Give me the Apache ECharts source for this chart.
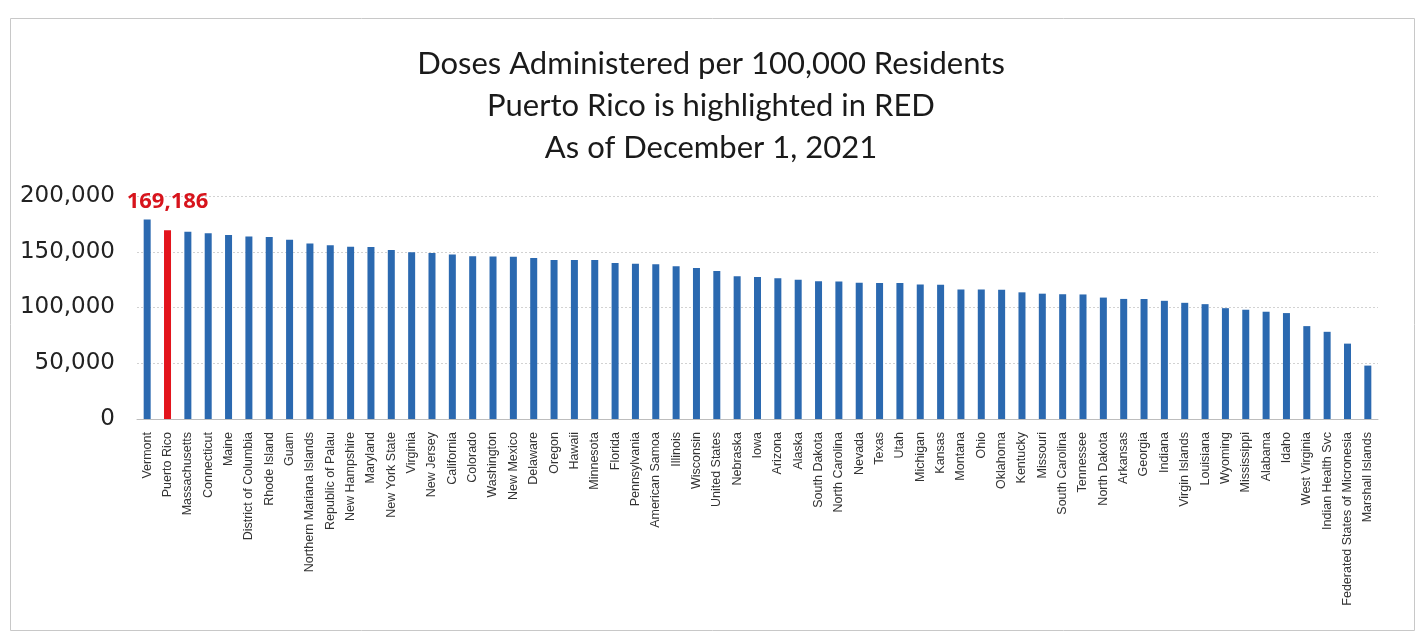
<!DOCTYPE html>
<html>
<head>
<meta charset="utf-8">
<script src="https://cdn.jsdelivr.net/npm/echarts@6/dist/echarts.min.js"></script>
<style>
  html, body { margin: 0; padding: 0; background: #ffffff; }
  #chart { width: 1422px; height: 639px; }
</style>
</head>
<body>
<div id="chart"></div>
<script>
// Jurisdictions, sorted by doses administered per 100,000 residents
const jurisdictions = [
  'Vermont', 'Puerto Rico', 'Massachusetts', 'Connecticut', 'Maine',
  'District of Columbia', 'Rhode Island', 'Guam', 'Northern Mariana Islands', 'Republic of Palau',
  'New Hampshire', 'Maryland', 'New York State', 'Virginia', 'New Jersey',
  'California', 'Colorado', 'Washington', 'New Mexico', 'Delaware',
  'Oregon', 'Hawaii', 'Minnesota', 'Florida', 'Pennsylvania',
  'American Samoa', 'Illinois', 'Wisconsin', 'United States', 'Nebraska',
  'Iowa', 'Arizona', 'Alaska', 'South Dakota', 'North Carolina',
  'Nevada', 'Texas', 'Utah', 'Michigan', 'Kansas',
  'Montana', 'Ohio', 'Oklahoma', 'Kentucky', 'Missouri',
  'South Carolina', 'Tennessee', 'North Dakota', 'Arkansas', 'Georgia',
  'Indiana', 'Virgin Islands', 'Louisiana', 'Wyoming', 'Mississippi',
  'Alabama', 'Idaho', 'West Virginia', 'Indian Health Svc', 'Federated States of Micronesia',
  'Marshall Islands'
];

// Doses administered per 100,000 residents
const dosesPer100k = [
  178900, 169186, 168000, 166500, 165100,
  163600, 163300, 160700, 157400, 155900,
  154500, 154300, 151500, 149500, 148900,
  147500, 146000, 145800, 145600, 144500,
  142700, 142600, 142500, 139800, 139200,
  138900, 136900, 135400, 132700, 128000,
  127400, 126300, 125000, 123600, 123300,
  122100, 122000, 121900, 120600, 120500,
  116200, 116100, 116000, 113600, 112400,
  111900, 111700, 108900, 107700, 107600,
  106000, 104200, 103000, 99400, 98000,
  96200, 95000, 83300, 78200, 67600,
  47900
];

const highlighted = 'Puerto Rico';

const titleLines = [
  'Doses Administered per 100,000 Residents',
  'Puerto Rico is highlighted in RED',
  'As of December 1, 2021'
];

const yTicks = { min: 0, max: 200000, interval: 50000 };

const BLUE = '#2b69b0';
const RED = '#e3141c';

const barData = jurisdictions.map((name, i) => {
  const isHi = name === highlighted;
  return {
    value: dosesPer100k[i],
    itemStyle: { color: isHi ? RED : BLUE },
    label: isHi ? {
      show: true,
      position: 'top',
      distance: 18,
      formatter: (p) => p.value.toLocaleString('en-US'),
      color: '#d7141c',
      fontWeight: 'bold',
      fontSize: 22,
      fontFamily: 'Open Sans, sans-serif'
    } : { show: false }
  };
});

const chart = echarts.init(document.getElementById('chart'), null, { renderer: 'canvas' });

chart.setOption({
  backgroundColor: '#ffffff',
  animation: false,
  title: {
    text: titleLines.join('\n'),
    left: 'center',
    top: 38,
    textStyle: {
      fontFamily: 'Lato, sans-serif',
      fontWeight: 'normal',
      fontSize: 31,
      lineHeight: 42,
      color: '#1a1a1a'
    }
  },
  graphic: [{
    type: 'rect',
    left: 8,
    top: 16,
    shape: { width: 1404, height: 612 },
    style: { fill: 'none', stroke: '#c8c8c8', lineWidth: 1 },
    silent: true
  }],
  grid: { left: 137, right: 44, top: 196, bottom: 220 },
  xAxis: {
    type: 'category',
    data: jurisdictions,
    axisLine: { lineStyle: { color: '#bdbdbd' } },
    axisTick: { show: false },
    axisLabel: {
      interval: 0,
      rotate: 90,
      margin: 13,
      fontSize: 12.5,
      fontFamily: 'Liberation Sans, Arial, sans-serif',
      color: '#333333'
    }
  },
  yAxis: {
    type: 'value',
    min: yTicks.min,
    max: yTicks.max,
    interval: yTicks.interval,
    axisLine: { show: false },
    axisTick: { show: false },
    splitLine: { lineStyle: { color: '#d2d2d2', type: [2, 2] } },
    axisLabel: {
      margin: 22,
      fontSize: 23,
      fontFamily: 'DejaVu Sans, sans-serif',
      color: '#222222',
      formatter: (v) => v.toLocaleString('en-US')
    }
  },
  series: [{
    type: 'bar',
    data: barData,
    barWidth: 7
  }]
});
</script>
</body>
</html>
